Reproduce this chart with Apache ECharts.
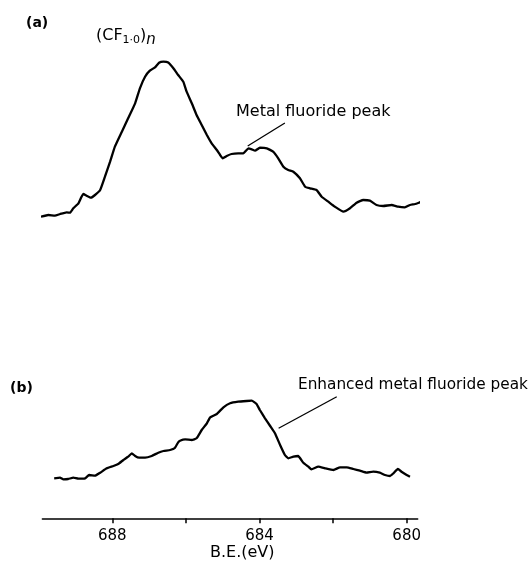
<!DOCTYPE html>
<html>
<head>
<meta charset="utf-8">
<script src="https://cdn.jsdelivr.net/npm/echarts@6/dist/echarts.min.js"></script>
<style>html,body{margin:0;padding:0;background:#fff}#c{width:530px;height:562px}</style>
</head>
<body>
<div id="c"></div>
<script>
// Binding energy (eV) and intensity (arbitrary units) for spectrum (a)
var beA = [689.94,689.74,689.56,689.42,689.24,689.15,689.06,688.92,688.79,688.70,688.58,688.47,688.33,688.20,688.06,687.93,687.74,687.57,687.38,687.25,687.11,686.98,686.84,686.73,686.61,686.48,686.34,686.21,686.07,685.98,685.84,685.71,685.57,685.43,685.30,685.16,685.07,685.00,684.89,684.76,684.58,684.44,684.30,684.21,684.12,683.99,683.80,683.63,683.49,683.35,683.22,683.08,682.90,682.76,682.63,682.45,682.31,682.13,681.95,681.72,681.54,681.36,681.18,681.00,680.82,680.64,680.41,680.23,680.05,679.91,679.77,679.59,679.41];
var intA = [3.3,5,4.3,6,7.7,7.3,11.7,16.7,26,24.3,22.3,25,30,43.3,58.3,73.3,88.3,101.7,116.7,131.7,143.3,149.3,152.7,157.3,158.3,157.5,151.7,145,138.3,128.3,116.7,105,95,85,76.7,70,65,61.7,64,66,66.7,66.7,71.7,70.7,69.3,72.3,71.7,68.3,61.7,53.3,50,48.3,41.7,33.3,31.7,30,23.3,18.3,13.3,8.3,11.7,17.3,20,19.3,15,14,15,13.3,12.7,15,16,18.3,20];
// Spectrum (b)
var beB = [689.58,689.42,689.33,689.20,689.06,688.92,688.74,688.63,688.47,688.33,688.15,687.97,687.84,687.70,687.57,687.47,687.38,687.27,687.11,686.93,686.75,686.61,686.43,686.30,686.21,686.16,686.02,685.84,685.71,685.57,685.43,685.34,685.16,684.98,684.80,684.58,684.35,684.21,684.08,683.99,683.85,683.71,683.58,683.44,683.31,683.22,683.08,682.95,682.81,682.67,682.59,682.40,682.22,681.99,681.81,681.63,681.45,681.27,681.09,680.91,680.73,680.59,680.45,680.36,680.24,680.14,680.00,679.91];
var intB = [11.7,12.3,10.7,11,12.3,11.3,11.7,15,14.3,17.3,21.7,24,26,30,33.3,36.7,34,32.3,32.3,34,37.3,39,40,42,47.7,49.3,50.7,50,51.7,60,66.7,72.7,76,82.7,86.7,88.3,89,89.3,86,80,71.7,64,56.7,45,35,31.7,33.3,34,27.3,23.3,20.7,23.3,21.7,20,22.7,22.7,21,19.3,17.3,18.3,17.3,15,14,16.7,21,18.3,15,13.3];
var tickValues = [688,686,684,682,680];
var labelValues = [688,684,680];
var pointerA = [[684.32,74],[683.31,97]];
var pointerB = [[683.48,61.7],[681.90,93.3]];

function zip(x,y){var o=[];for(var i=0;i<x.length;i++)o.push([x[i],y[i]]);return o;}
var FONT = 'DejaVu Sans';
var chart = echarts.init(document.getElementById('c'));
chart.setOption({
  animation:false,
  backgroundColor:'#fff',
  grid:[
    {left:42.4,width:375.3,top:40,height:180},
    {left:42.4,width:375.3,top:390,height:128.3}
  ],
  xAxis:[
    {gridIndex:0,type:'value',min:679.7,max:689.9,inverse:true,show:false},
    {gridIndex:1,type:'value',min:679.7,max:689.9,inverse:true,
     axisLine:{show:true,onZero:false,lineStyle:{color:'#000',width:1.5}},
     axisTick:{show:true,customValues:tickValues,length:5,lineStyle:{color:'#000',width:1.5}},
     axisLabel:{show:true,customValues:labelValues,margin:10,color:'#000',fontFamily:FONT,fontSize:15},
     splitLine:{show:false}}
  ],
  yAxis:[
    {gridIndex:0,type:'value',min:0,max:180,show:false},
    {gridIndex:1,type:'value',min:-28.3,max:100,show:false}
  ],
  series:[
    {type:'line',xAxisIndex:0,yAxisIndex:0,data:zip(beA,intA),showSymbol:false,smooth:0.12,clip:false,
     lineStyle:{color:'#000',width:2.3},
     markLine:{silent:true,symbol:['none','none'],label:{show:false},lineStyle:{color:'#000',width:1.3,type:'solid'},
       data:[[{coord:pointerA[0]},{coord:pointerA[1]}]]}},
    {type:'line',xAxisIndex:1,yAxisIndex:1,data:zip(beB,intB),showSymbol:false,smooth:0.12,clip:false,
     lineStyle:{color:'#000',width:2.3},
     markLine:{silent:true,symbol:['none','none'],label:{show:false},lineStyle:{color:'#000',width:1.3,type:'solid'},
       data:[[{coord:pointerB[0]},{coord:pointerB[1]}]]}}
  ],
  graphic:[
    {type:'text',left:26,top:16,style:{text:'(a)',font:'bold 14px '+FONT,fill:'#000'}},
    {type:'text',left:96,top:28,style:{
      text:'(CF{s|1·0}){n|n}',
      font:'16px '+FONT,fill:'#000',
      rich:{s:{fontSize:11,fontFamily:FONT,padding:[9,0,0,0],fill:'#000'},
            n:{fontSize:15,fontStyle:'italic',fontFamily:FONT,padding:[9,0,0,0],fill:'#000'}}}},
    {type:'text',left:236,top:104,style:{text:'Metal fluoride peak',font:'16px '+FONT,fill:'#000'}},
    {type:'text',left:10,top:381,style:{text:'(b)',font:'bold 14px '+FONT,fill:'#000'}},
    {type:'text',left:298,top:378,style:{text:'Enhanced metal fluoride peak',font:'15.3px '+FONT,fill:'#000'}},
    {type:'text',left:210,top:545,style:{text:'B.E.(eV)',font:'16px '+FONT,fill:'#000'}}
  ]
});
</script>
</body>
</html>
